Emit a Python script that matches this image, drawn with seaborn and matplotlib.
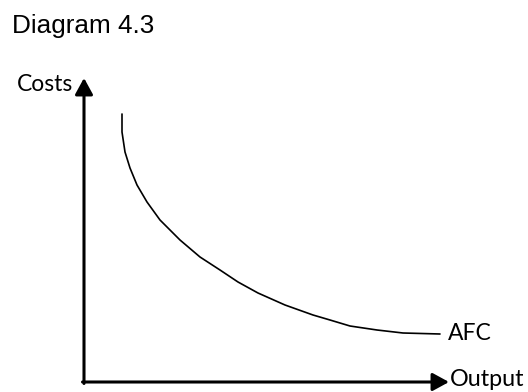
import matplotlib
matplotlib.use("Agg")
import matplotlib.pyplot as plt
import seaborn as sns
import pandas as pd

# Average fixed cost curve (output, cost)
output = [38, 38, 41, 46, 53, 63, 76, 96, 116, 136, 154, 174, 201, 229, 246, 266, 293, 319, 356]
afc = [268, 250, 230, 214, 197, 180, 162, 142, 125, 112, 100, 89, 77, 67, 62, 56, 52, 49, 48]

title = "Diagram 4.3"
y_label = "Costs"
x_label = "Output"
curve_label = "AFC"

sns.set_theme(style="white")
label_font = ["Lato", "DejaVu Sans"]

fig = plt.figure(figsize=(5.28, 3.92), dpi=100)
ax = fig.add_axes([0, 0, 1, 1])
ax.set_xlim(-84, 444)
ax.set_ylim(-10, 382)
ax.set_axis_off()

df = pd.DataFrame({"Output": output, "AFC": afc})
sns.lineplot(data=df, x="Output", y="AFC", sort=False, estimator=None,
             color="black", linewidth=1.2, ax=ax)

# Axes drawn as arrows from the origin
arrow = dict(arrowstyle="-|>,head_length=0.55,head_width=0.3", color="black",
             lw=2.2, mutation_scale=18, shrinkA=0, shrinkB=0)
ax.annotate("", xy=(0, 304), xytext=(0, -1.5), arrowprops=arrow)
ax.annotate("", xy=(365, 0), xytext=(-1.5, 0), arrowprops=arrow)

ax.text(-72, 349, title, family=["Liberation Sans", "DejaVu Sans"], fontsize=18.8,
        ha="left", va="baseline", color="black")
ax.text(-11, 291, y_label, family=label_font, fontsize=16.5,
        ha="right", va="baseline", color="black")
ax.text(366, -4, x_label, family=label_font, fontsize=16.8,
        ha="left", va="baseline", color="black")
ax.text(364, 42, curve_label, family=label_font, fontsize=16.5,
        ha="left", va="baseline", color="black")

fig.savefig("out.png", dpi=100, facecolor="white")
